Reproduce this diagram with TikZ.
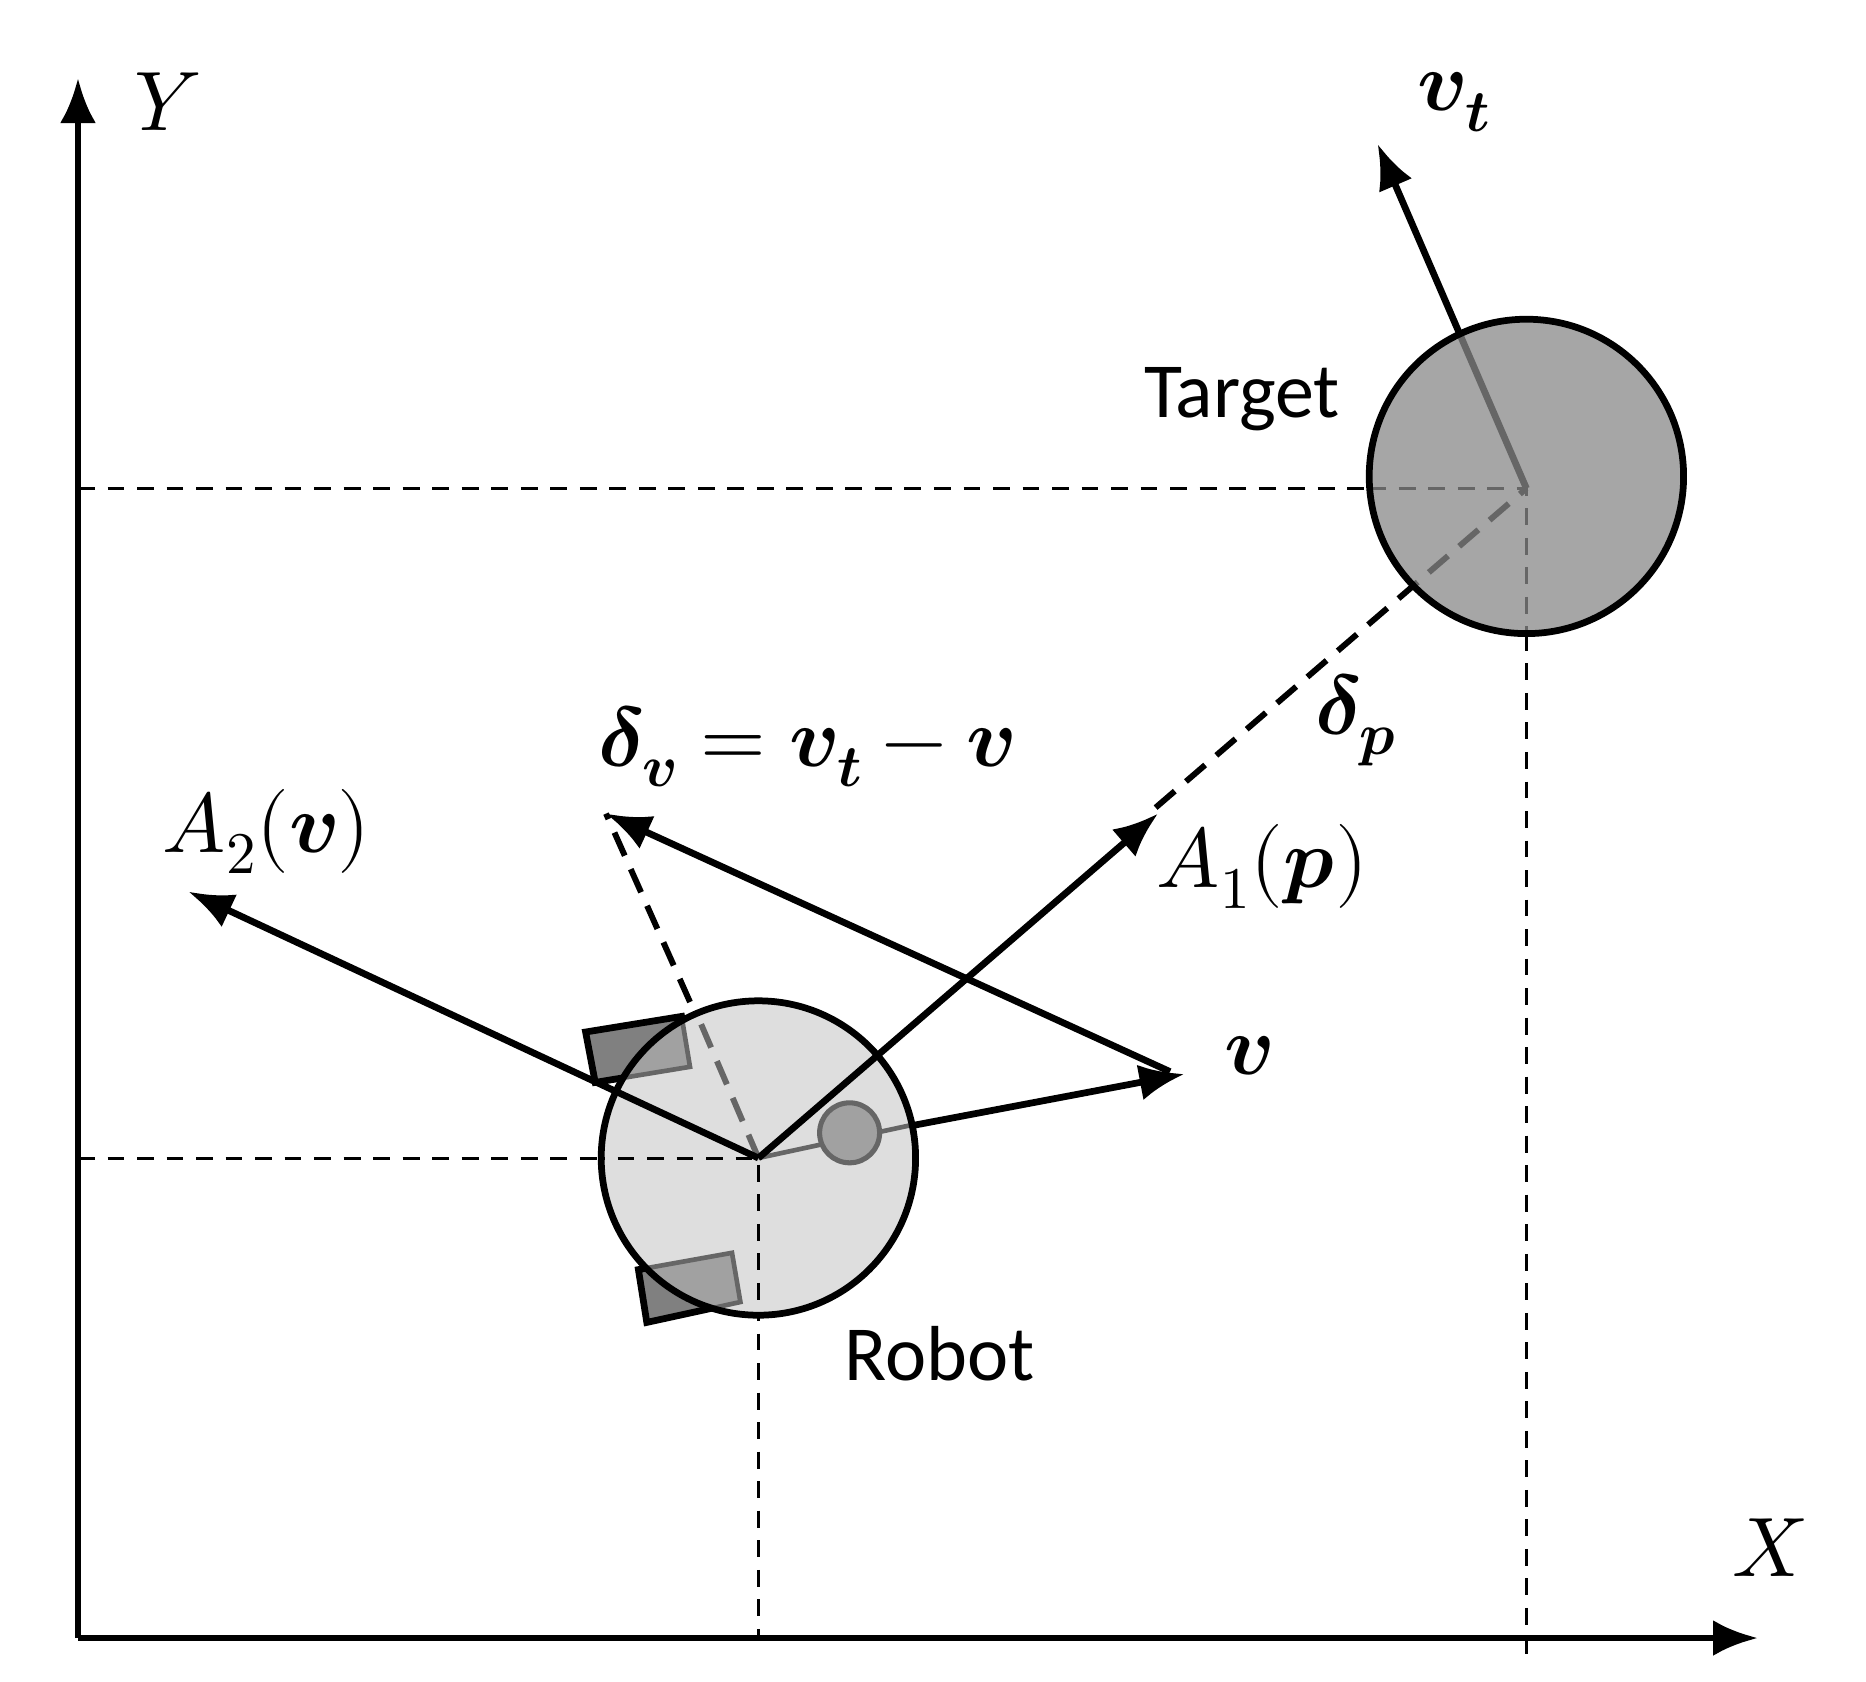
\documentclass[tikz,border=0pt]{standalone}
\usepackage{fontspec}
\usepackage{unicode-math}
\setmathfont{Latin Modern Math}
\newfontfamily\lab{Carlito}
\usetikzlibrary{arrows.meta}
\begin{document}
\begin{tikzpicture}[x=0.02cm,y=-0.02cm,
  thk/.style={line width=3.2pt},
  arr/.style={thk,-{Latex[length=0.75cm,width=0.6cm]}},
  dsh/.style={line width=1.4pt,dash pattern=on 8pt off 6pt},
  bdsh/.style={line width=2.8pt,dash pattern=on 12pt off 7pt},
  lbl/.style={font=\fontsize{40}{44}\selectfont},
  txt/.style={font=\lab\fontsize{37}{40}\selectfont}]
\useasboundingbox (0,0) rectangle (1555,1401);
% axes
\coordinate (O) at (65,1365);
\coordinate (Ytip) at (65,65);
\coordinate (Xtip) at (1465,1365);
\draw[arr] (O) -- (Ytip);
\draw[arr] (O) -- (Xtip);
\node[lbl] (Yl) at (140,85) {$Y$};
\node[lbl] (Xl) at (1475,1290) {$X$};
% points
\coordinate (R) at (632,965);
\coordinate (T) at (1272,407);
\coordinate (Ry) at (65,965);
\coordinate (Rx) at (632,1365);
\coordinate (Ty) at (65,407);
\coordinate (Tx) at (1272,1385);
\draw[dsh] (Ty) -- (T) -- (Tx);
\draw[dsh] (Ry) -- (R) -- (Rx);
% target
\coordinate (vt) at (1148,120);
\coordinate (dp) at (963,673);
\draw[arr] (T) -- (vt);
\draw[bdsh] (dp) -- (T);
\fill[black!35] (1272,397) circle (131);
\begin{scope}
\clip (1272,397) circle (129);
\draw[thk,black!60] (T) -- (vt);
\draw[bdsh,black!60] (dp) -- (T);
\draw[dsh,black!60] (1141,407) -- (T) -- (1272,530);
\end{scope}
\draw[thk] (1272,397) circle (131);
\node[lbl] (vtl) at (1212,85) {$\symbfit{v}_{\symbfit{t}}$};
\node[txt] (Tl) at (1035,333) {Target};
\node[lbl] (dpl) at (1130,600) {$\symbfit{\delta}_{\symbfit{p}}$};
% robot wheels (outer)
\tikzset{wheel/.style={fill=black!50,draw=black,line width=3.2pt,line join=miter}}
\draw[wheel] (488,860) -- (568,847) -- (575,889) -- (496,902) -- cycle;
\draw[wheel] (532,1058) -- (610,1044) -- (617,1085) -- (539,1102) -- cycle;
\fill[black!13] (632,965) circle (131);
\begin{scope}
\clip (632,965) circle (131);
\draw[fill=black!37,draw=black!60,line width=2.2pt] (488,860) -- (568,847) -- (575,889) -- (496,902) -- cycle;
\draw[fill=black!37,draw=black!60,line width=2.2pt] (532,1058) -- (610,1044) -- (617,1085) -- (539,1102) -- cycle;
\draw[bdsh,black!60] (R) -- (510,680);
\draw[line width=2.2pt,black!60] (R) -- (762,937);
\draw[dsh] (490,965) -- (R) -- (632,1100);
\end{scope}
\draw[thk] (632,965) circle (131);
\node[circle,draw=black!60,fill=black!37,line width=2.4pt,minimum size=1.0cm,inner sep=0] (cst) at (708,944) {};
% robot vectors
\coordinate (A1) at (965,678);
\coordinate (A2) at (157,743);
\coordinate (vs) at (760,938);
\coordinate (vv) at (987,895);
\coordinate (dv) at (505,678);
\draw[bdsh] (575,835) -- (dv);
\draw[arr] (R) -- (A1);
\draw[arr] (R) -- (A2);
\draw[arr] (vs) -- (vv);
\draw[arr] (975,893) -- (dv);
\node[lbl] (A1l) at (1052,722) {$A_1(\symbfit{p})$};
\node[lbl] (A2l) at (222,693) {$A_2(\symbfit{v})$};
\node[lbl] (vl) at (1040,880) {$\symbfit{v}$};
\node[lbl] (dvl) at (672,622) {$\symbfit{\delta}_{\symbfit{v}}=\symbfit{v}_{\symbfit{t}}-\symbfit{v}$};
\node[txt] (Rl) at (783,1128) {Robot};
\end{tikzpicture}
\end{document}
